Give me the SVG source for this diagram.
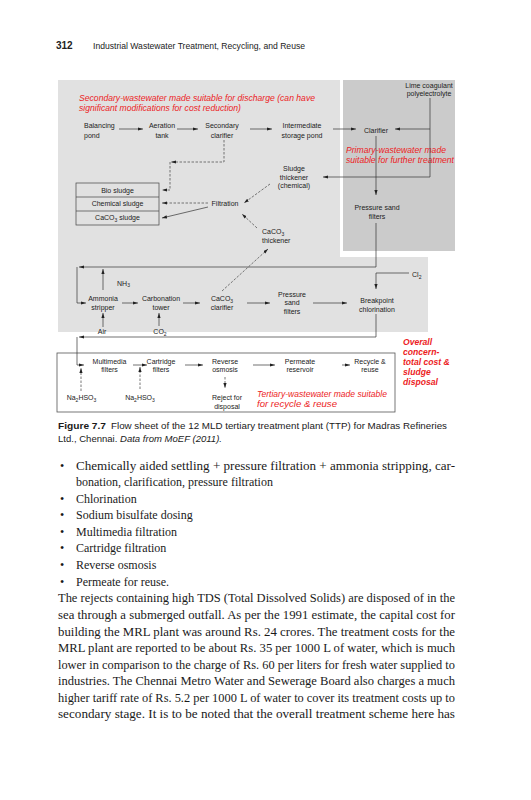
<svg xmlns="http://www.w3.org/2000/svg" width="531" height="800" viewBox="0 0 531 800">
<defs>
<marker id="ah" markerUnits="userSpaceOnUse" markerWidth="6" markerHeight="4" refX="5" refY="1.6" orient="auto">
<path d="M0,0 L5,1.6 L0,3.2 z" fill="#222"/>
</marker>
<style>
.lbl{font-family:"Liberation Sans",Arial,sans-serif;font-size:7px;fill:#222;text-anchor:middle}
.lft{text-anchor:start}
.red{font-family:"Liberation Sans",Arial,sans-serif;font-size:8.3px;font-style:italic;fill:#ec1c24}
.redb{font-family:"Liberation Sans",Arial,sans-serif;font-size:8.6px;font-style:italic;font-weight:bold;fill:#ec1c24}
.ln{stroke:#333;stroke-width:0.7;fill:none;marker-end:url(#ah)}
.ds{stroke:#555;stroke-width:0.8;fill:none;stroke-dasharray:2.5 1.5;marker-end:url(#ah)}
.body{font-family:"Liberation Serif","Times New Roman",serif;font-size:12px;fill:#1a1a1a}
.cap{font-family:"Liberation Sans",Arial,sans-serif;font-size:9.5px;fill:#1a1a1a}
</style>
</defs>
<rect width="531" height="800" fill="#fff"/>

<!-- header -->
<text x="56" y="49" font-family="Liberation Sans,Arial,sans-serif" font-size="10" font-weight="bold" fill="#222">312</text>
<text x="93" y="49" font-family="Liberation Sans,Arial,sans-serif" font-size="9" fill="#222" textLength="212" lengthAdjust="spacingAndGlyphs">Industrial Wastewater Treatment, Recycling, and Reuse</text>

<!-- backgrounds -->
<path d="M58,80 H340 V257 H428 V332 H58 Z" fill="#e1e1e1"/>
<rect x="343" y="80" width="112" height="171" fill="#cbcbcb"/>
<rect x="57" y="353" width="338" height="59" fill="#fff" stroke="#555" stroke-width="0.8"/>

<!-- region notes -->
<g id="note-secondary">
<text class="red" x="79" y="100.5" textLength="236" lengthAdjust="spacingAndGlyphs">Secondary-wastewater made suitable for discharge (can have</text>
<text class="red" x="79" y="110.5" textLength="162" lengthAdjust="spacingAndGlyphs">significant modifications for cost reduction)</text>
</g>
<g id="note-primary">
<text class="red" x="346" y="153" textLength="100" lengthAdjust="spacingAndGlyphs">Primary-wastewater made</text>
<text class="red" x="346" y="163" textLength="108" lengthAdjust="spacingAndGlyphs">suitable for further treatment</text>
</g>
<g id="note-tertiary">
<text class="red" x="257" y="397" textLength="130" lengthAdjust="spacingAndGlyphs">Tertiary-wastewater made suitable</text>
<text class="red" x="257" y="407" textLength="80" lengthAdjust="spacingAndGlyphs">for recycle &amp; reuse</text>
</g>
<g id="note-overall">
<text class="redb" x="403" y="344.5">Overall</text>
<text class="redb" x="403" y="354.5">concern-</text>
<text class="redb" x="403" y="365">total cost &amp;</text>
<text class="redb" x="403" y="375">sludge</text>
<text class="redb" x="403" y="385">disposal</text>
</g>

<!-- nodes -->
<g id="balancing-pond"><text class="lbl lft" x="84" y="128">Balancing</text><text class="lbl lft" x="84" y="137.5">pond</text></g>
<g id="aeration-tank"><text class="lbl" x="162" y="128">Aeration</text><text class="lbl" x="162" y="137.5">tank</text></g>
<g id="secondary-clarifier"><text class="lbl" x="222" y="128">Secondary</text><text class="lbl" x="222" y="137.5">clarifier</text></g>
<g id="intermediate-storage"><text class="lbl" x="302" y="128">Intermediate</text><text class="lbl" x="302" y="137.5">storage pond</text></g>
<g id="clarifier"><text class="lbl" x="376" y="132.5">Clarifier</text></g>
<g id="lime"><text class="lbl" x="429" y="87.5">Lime coagulant</text><text class="lbl" x="429" y="95.5">polyelectrolyte</text></g>
<g id="sludge-thickener"><text class="lbl" x="294" y="170.5">Sludge</text><text class="lbl" x="294" y="179.5">thickener</text><text class="lbl" x="294" y="188">(chemical)</text></g>
<g id="sludge-boxes">
<rect x="76" y="183" width="83" height="42" fill="none" stroke="#444" stroke-width="0.7"/>
<line x1="76" y1="197" x2="159" y2="197" stroke="#444" stroke-width="0.7"/>
<line x1="76" y1="211" x2="159" y2="211" stroke="#444" stroke-width="0.7"/>
<text class="lbl" x="117.5" y="193">Bio sludge</text>
<text class="lbl" x="117.5" y="206">Chemical sludge</text>
<text class="lbl" x="117.5" y="220">CaCO<tspan dy="1.5" font-size="5">3</tspan><tspan dy="-1.5"> sludge</tspan></text>
</g>
<g id="filtration"><text class="lbl" x="225" y="206">Filtration</text></g>
<g id="pressure-sand-upper"><text class="lbl" x="377" y="210">Pressure sand</text><text class="lbl" x="377" y="219">filters</text></g>
<g id="caco3-thickener"><text class="lbl lft" x="262" y="234">CaCO<tspan dy="1.5" font-size="5">3</tspan></text><text class="lbl lft" x="262" y="242.5">thickener</text></g>
<g id="nh3"><text class="lbl lft" x="117" y="285.5">NH<tspan dy="1.5" font-size="5">3</tspan></text></g>
<g id="ammonia-stripper"><text class="lbl" x="103" y="301">Ammonia</text><text class="lbl" x="103" y="310">stripper</text></g>
<g id="carbonation-tower"><text class="lbl" x="161" y="301">Carbonation</text><text class="lbl" x="161" y="310">tower</text></g>
<g id="caco3-clarifier"><text class="lbl" x="222" y="301">CaCO<tspan dy="1.5" font-size="5">3</tspan></text><text class="lbl" x="222" y="310">clarifier</text></g>
<g id="pressure-sand-lower"><text class="lbl" x="292" y="297">Pressure</text><text class="lbl" x="292" y="305">sand</text><text class="lbl" x="292" y="314">filters</text></g>
<g id="breakpoint"><text class="lbl" x="377" y="302.5">Breakpoint</text><text class="lbl" x="377" y="311.5">chlorination</text></g>
<g id="cl2"><text class="lbl lft" x="412" y="277">Cl<tspan dy="1.5" font-size="5">2</tspan></text></g>
<g id="air"><text class="lbl" x="102" y="334">Air</text></g>
<g id="co2"><text class="lbl" x="160" y="334">CO<tspan dy="1.5" font-size="5">2</tspan></text></g>
<g id="multimedia"><text class="lbl" x="109.5" y="363.5">Multimedia</text><text class="lbl" x="109.5" y="372">filters</text></g>
<g id="cartridge"><text class="lbl" x="161" y="363.5">Cartridge</text><text class="lbl" x="161" y="372">filters</text></g>
<g id="ro"><text class="lbl" x="225" y="363.5">Reverse</text><text class="lbl" x="225" y="372">osmosis</text></g>
<g id="reject"><text class="lbl" x="227" y="400">Reject for</text><text class="lbl" x="227" y="408.5">disposal</text></g>
<g id="na2hso3-1"><text class="lbl" x="81.5" y="400">Na<tspan dy="1.5" font-size="5">2</tspan><tspan dy="-1.5">HSO</tspan><tspan dy="1.5" font-size="5">3</tspan></text></g>
<g id="na2hso3-2"><text class="lbl" x="140" y="400">Na<tspan dy="1.5" font-size="5">2</tspan><tspan dy="-1.5">HSO</tspan><tspan dy="1.5" font-size="5">3</tspan></text></g>
<g id="permeate"><text class="lbl" x="300" y="363.5">Permeate</text><text class="lbl" x="300" y="372">reservoir</text></g>
<g id="recycle"><text class="lbl" x="370" y="363.5">Recycle &amp;</text><text class="lbl" x="370" y="372">reuse</text></g>

<!-- connectors -->
<g id="connectors">
<path class="ln" d="M119,129 H143"/>
<path class="ln" d="M177,129 H198"/>
<path class="ln" d="M250,129 H272"/>
<path class="ln" d="M333,129 H356"/>
<path class="ln" d="M430,98 V177 H323"/>
<path class="ln" d="M430,129 H395"/>
<path class="ln" d="M376,136 V195"/>
<path class="ln" d="M376,223 V267 H79"/>
<path class="ln" d="M77,267 V303 H86"/>
<path class="ln" d="M103,290 V269"/>
<path class="ln" d="M122,303 H138"/>
<path class="ln" d="M183,303 H200"/>
<path class="ln" d="M247,303 H270"/>
<path class="ln" d="M313,303 H347"/>
<path class="ln" d="M409,273 H376 V289"/>
<path class="ln" d="M103,327 V313"/>
<path class="ln" d="M159,326 V313"/>
<path class="ln" d="M376,314 V337 H79"/>
<path class="ln" d="M77,337 V365 H84"/>
<path class="ln" d="M133,365 H147"/>
<path class="ln" d="M185,365 H203"/>
<path class="ln" d="M253,365 H275"/>
<path class="ln" d="M342,365 H350"/>
<path class="ln" d="M208,207 L162,218"/>
<path class="ds" d="M224,140 V162 H171"/>
<path class="ds" d="M170,162 V190 H162"/>
<path class="ds" d="M208,203 H162"/>
<path class="ds" d="M270,184 L244,203"/>
<path class="ds" d="M257,228 L242,214"/>
<path class="ds" d="M222,291 L268,249"/>
<path class="ds" d="M225,377 V388"/>
<path class="ds" d="M81,391 V368"/>
<path class="ds" d="M140,389 V367"/>
</g>

<!-- caption -->
<text class="cap" x="58" y="428.5"><tspan font-weight="bold" textLength="48" lengthAdjust="spacingAndGlyphs">Figure 7.7</tspan></text>
<text class="cap" x="111" y="428.5" textLength="336" lengthAdjust="spacingAndGlyphs">Flow sheet of the 12 MLD tertiary treatment plant (TTP) for Madras Refineries</text>
<text class="cap" x="58" y="442" textLength="164" lengthAdjust="spacingAndGlyphs">Ltd., Chennai. <tspan font-style="italic">Data from MoEF (2011).</tspan></text>

<!-- body -->
<g class="body">
<text x="60" y="470">•</text>
<text x="76" y="470" textLength="379" lengthAdjust="spacingAndGlyphs">Chemically aided settling + pressure filtration + ammonia stripping, car-</text>
<text x="76" y="486">bonation, clarification, pressure filtration</text>
<text x="60" y="502.5">•</text><text x="76" y="502.5">Chlorination</text>
<text x="60" y="519">•</text><text x="76" y="519">Sodium bisulfate dosing</text>
<text x="60" y="535.5">•</text><text x="76" y="535.5">Multimedia filtration</text>
<text x="60" y="552">•</text><text x="76" y="552">Cartridge filtration</text>
<text x="60" y="569">•</text><text x="76" y="569">Reverse osmosis</text>
<text x="60" y="585.5">•</text><text x="76" y="585.5">Permeate for reuse.</text>
<text x="58" y="602" textLength="397" lengthAdjust="spacingAndGlyphs">The rejects containing high TDS (Total Dissolved Solids) are disposed of in the</text>
<text x="58" y="619" textLength="397" lengthAdjust="spacingAndGlyphs">sea through a submerged outfall. As per the 1991 estimate, the capital cost for</text>
<text x="58" y="635.5" textLength="397" lengthAdjust="spacingAndGlyphs">building the MRL plant was around Rs. 24 crores. The treatment costs for the</text>
<text x="58" y="652" textLength="397" lengthAdjust="spacingAndGlyphs">MRL plant are reported to be about Rs. 35 per 1000 L of water, which is much</text>
<text x="58" y="668.5" textLength="397" lengthAdjust="spacingAndGlyphs">lower in comparison to the charge of Rs. 60 per liters for fresh water supplied to</text>
<text x="58" y="685" textLength="397" lengthAdjust="spacingAndGlyphs">industries. The Chennai Metro Water and Sewerage Board also charges a much</text>
<text x="58" y="701.5" textLength="397" lengthAdjust="spacingAndGlyphs">higher tariff rate of Rs. 5.2 per 1000 L of water to cover its treatment costs up to</text>
<text x="58" y="718" textLength="397" lengthAdjust="spacingAndGlyphs">secondary stage. It is to be noted that the overall treatment scheme here has</text>
</g>
</svg>
